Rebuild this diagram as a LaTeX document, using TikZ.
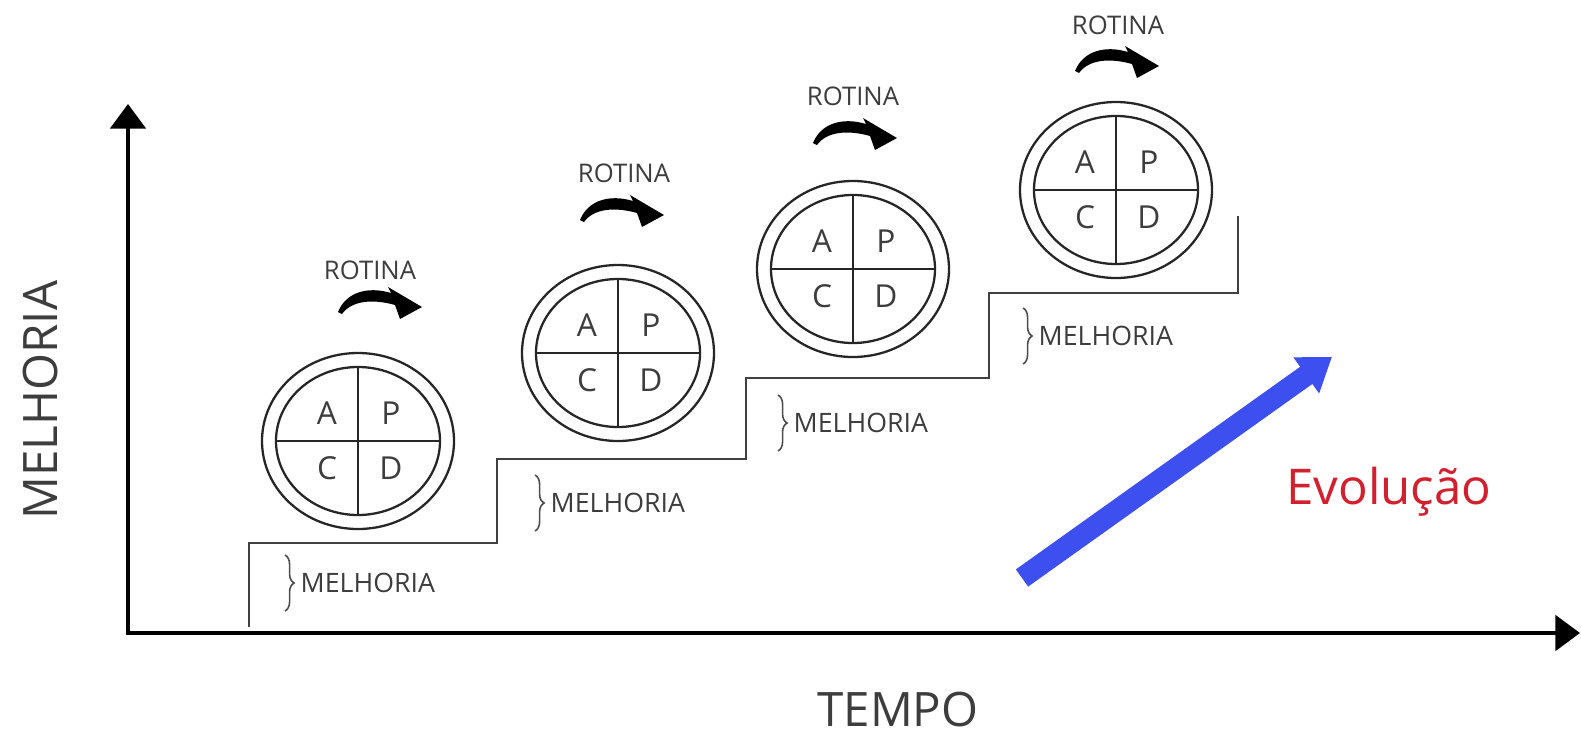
\documentclass[tikz,border=0pt]{standalone}
\usepackage{fontspec}
\setmainfont{Open Sans}
\usetikzlibrary{arrows.meta,decorations.pathreplacing}
\definecolor{txtgray}{HTML}{3D3D3D}
\definecolor{evored}{HTML}{D2202F}
\definecolor{evoblue}{HTML}{3D4FEE}
\begin{document}
\begin{tikzpicture}[x=0.01cm,y=-0.01cm,
  axisline/.style={line width=1.3pt,line join=miter,
    {Triangle[width=10pt,length=7pt]}-{Triangle[width=10pt,length=7pt]}},
  stair/.style={draw=black!75,line width=0.6pt},
  ring/.style={draw=black!85,line width=0.65pt},
  crossline/.style={draw=black!85,line width=0.55pt},
  quad/.style={text=txtgray,font=\fontsize{9}{10}\selectfont,inner sep=0pt},
  rotlab/.style={text=txtgray,font=\fontsize{7.3}{8}\selectfont,inner sep=0pt},
  mellab/.style={text=txtgray,font=\fontsize{7.6}{8}\selectfont,inner sep=0pt,anchor=west},
  bracestyle/.style={draw=black!70,line width=0.45pt,decorate,decoration={brace,amplitude=2.6pt}},
  axislab/.style={text=txtgray,font=\fontsize{13.5}{15}\selectfont,inner sep=0pt},
  evo/.style={draw=evoblue,line width=6pt,-{Triangle[width=12pt,length=9pt]}},
  rotarrow/.pic={
    \fill[black] (0,0) .. controls (8,-20) and (30,-26) .. (53,-19)
      -- (50,-25) -- (84,-5) -- (62,7) -- (57,-7)
      .. controls (36,-13) and (14,-12) .. (4,2) -- cycle;
  }
]
\useasboundingbox (0,0) rectangle (1581,736);

% axes
\coordinate (ytip) at (128,104);
\coordinate (origin) at (128,633);
\coordinate (xtip) at (1580,633);
\draw[axisline] (ytip) -- (origin) -- (xtip);
\node[axislab,rotate=90] (ylab) at (41,400) {MELHORIA};
\node[axislab] (xlab) at (898,710) {TEMPO};

% staircase
\coordinate (s0) at (249,627);
\coordinate (s1) at (497,543);
\coordinate (s2) at (746,459);
\coordinate (s3) at (989,378);
\coordinate (s4) at (1238,293);
\coordinate (s5) at (1238,216);
\draw[stair] (s0) |- (s1) |- (s2) |- (s3) |- (s4) -- (s5);

% PDCA circles
\foreach \i/\cx/\cy in {1/358/441, 2/618/353, 3/853/269, 4/1116/190} {
  \coordinate (c\i) at (\cx,\cy);
  \draw[ring] (c\i) ellipse [x radius=96, y radius=88];
  \draw[ring] (c\i) ellipse [x radius=82, y radius=74];
  \draw[crossline] (\cx,\cy-74) -- (\cx,\cy+74);
  \draw[crossline] (\cx-82,\cy) -- (\cx+82,\cy);
  \node[quad] (a\i) at (\cx-31,\cy-28) {A};
  \node[quad] (p\i) at (\cx+33,\cy-28) {P};
  \node[quad] (cc\i) at (\cx-31,\cy+27) {C};
  \node[quad] (d\i) at (\cx+33,\cy+27) {D};
}

% ROTINA labels and arrows
\node[rotlab] (r1) at (370,270) {ROTINA};
\node[rotlab] (r2) at (624,173) {ROTINA};
\node[rotlab] (r3) at (853,96) {ROTINA};
\node[rotlab] (r4) at (1118,25) {ROTINA};
\pic at (338,312) {rotarrow};
\pic at (580,220) {rotarrow};
\pic at (813,143) {rotarrow};
\pic at (1075,71) {rotarrow};

% MELHORIA braces
\foreach \i/\bx/\by in {1/285/583, 2/535/503, 3/778/423, 4/1023/336} {
  \coordinate (bt\i) at (\bx,\by-28);
  \coordinate (bb\i) at (\bx,\by+28);
  \draw[bracestyle] (bt\i) -- (bb\i);
  \node[mellab] (m\i) at (\bx+15,\by) {MELHORIA};
}

% evolution arrow
\coordinate (evs) at (1022,578);
\coordinate (eve) at (1332,357);
\draw[evo] (evs) -- (eve);
\node[text=evored,font=\fontsize{14}{16}\selectfont,inner sep=0pt] (evo) at (1389,492) {Evolução};
\end{tikzpicture}
\end{document}
